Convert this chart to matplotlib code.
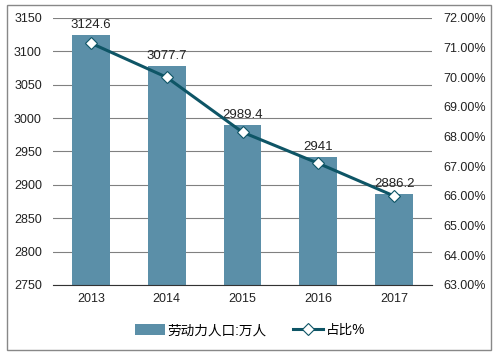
import matplotlib
matplotlib.use("Agg")
import matplotlib.pyplot as plt
from matplotlib.patches import Rectangle
from matplotlib.ticker import FuncFormatter

plt.rcParams['font.family'] = ['Liberation Sans', 'Noto Sans CJK SC', 'DejaVu Sans']

years = ["2013", "2014", "2015", "2016", "2017"]
labor = [3124.6, 3077.7, 2989.4, 2941, 2886.2]
share = [71.15, 70.0, 68.15, 67.1, 66.0]
bar_label = "劳动力人口:万人"
line_label = "占比%"

bar_color = "#5B8FA8"
line_color = "#0E5566"

fig = plt.figure(figsize=(5.0, 3.57), dpi=100)
ax = fig.add_axes([0.106, 0.2017, 0.758, 0.748])
x = list(range(len(years)))
bars = ax.bar(x, labor, width=0.5, color=bar_color, zorder=2, label=bar_label)
ax.set_ylim(2750, 3150)
ax.set_yticks(range(2750, 3151, 50))
ax.set_xlim(-0.5, len(years) - 0.5)
ax.set_xticks(x)
ax.set_xticklabels(years)
ax.grid(axis='y', color='#808080', linewidth=0.8, zorder=0)
ax.set_axisbelow(True)
for s in ['top', 'right', 'left']:
    ax.spines[s].set_visible(False)
ax.spines['bottom'].set_color('#333333')
ax.tick_params(axis='both', length=0, labelsize=9, colors='#222222', pad=6)
ax.tick_params(axis='y', pad=8)

for xi, v in zip(x, labor):
    ax.annotate(f"{v:g}", (xi, v), xytext=(0, 3), textcoords='offset points',
                ha='center', va='bottom', fontsize=9.5, color='#222222', zorder=5)

ax2 = ax.twinx()
ax2.set_ylim(63, 72)
ax2.set_yticks(range(63, 73))
ax2.yaxis.set_major_formatter(FuncFormatter(lambda v, p: f"{v:.2f}%"))
for s in ['top', 'right', 'left', 'bottom']:
    ax2.spines[s].set_visible(False)
ax2.tick_params(axis='y', length=0, labelsize=9, colors='#222222', pad=8)
line, = ax2.plot(x, share, color=line_color, linewidth=2.2, marker='D', markersize=6,
                 markerfacecolor='white', markeredgecolor=line_color, markeredgewidth=0.8,
                 zorder=4, label=line_label)

fig.legend([bars, line], [bar_label, line_label], loc='center', bbox_to_anchor=(0.5, 0.075),
           ncol=2, frameon=False, fontsize=9.8, handlelength=2.2, handleheight=0.8,
           columnspacing=2.0, handletextpad=0.15)

fig.patches.append(Rectangle((0.014, 0.02), 0.968, 0.966, transform=fig.transFigure,
                             fill=False, edgecolor='#888888', linewidth=1.0))

fig.savefig("out.png", dpi=100)
